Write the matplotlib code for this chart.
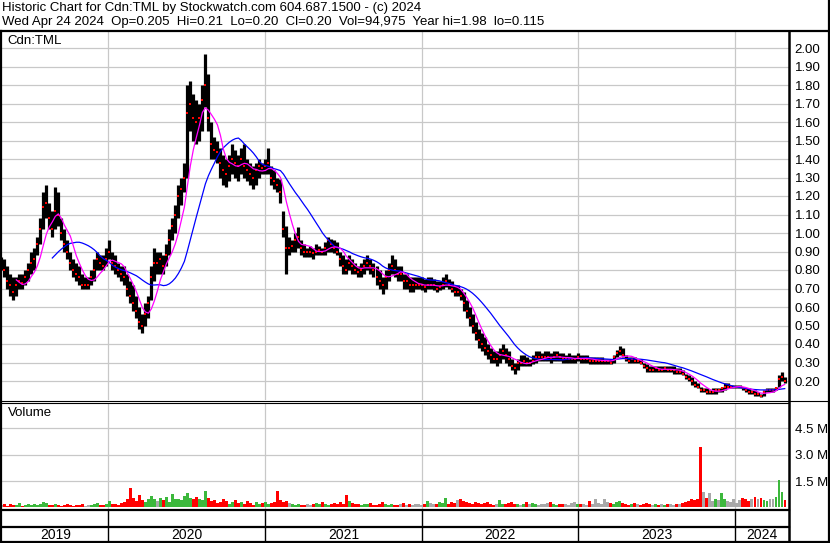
import matplotlib
matplotlib.use("Agg")
import matplotlib.pyplot as plt
import matplotlib.dates as mdates
from matplotlib.lines import Line2D
import numpy as np
import pandas as pd

plt.rcParams['font.family'] = ['Liberation Sans', 'DejaVu Sans']

# ---------------- data (weekly) ----------------
first_week = "2019-04-26"

high = [
    0.87, 0.86, 0.82, 0.78, 0.76, 0.76, 0.78, 0.78, 0.80, 0.84,
    0.90, 0.92, 0.98, 1.08, 1.22, 1.26, 1.16, 1.12, 1.25, 1.22,
    1.08, 1.02, 0.96, 0.90, 0.86, 0.84, 0.82, 0.78, 0.76, 0.76,
    0.80, 0.86, 0.90, 0.88, 0.88, 0.92, 0.96, 0.90, 0.88, 0.84,
    0.82, 0.82, 0.78, 0.74, 0.72, 0.66, 0.60, 0.56, 0.62, 0.66,
    0.82, 0.92, 0.90, 0.90, 0.88, 0.94, 1.02, 1.08, 1.15, 1.26,
    1.30, 1.38, 1.80, 1.82, 1.75, 1.72, 1.70, 1.80, 1.97, 1.86,
    1.60, 1.52, 1.50, 1.46, 1.42, 1.40, 1.42, 1.48, 1.45, 1.42,
    1.46, 1.48, 1.40, 1.38, 1.36, 1.38, 1.40, 1.38, 1.40, 1.46,
    1.36, 1.34, 1.30, 1.29, 1.12, 1.04, 0.98, 0.96, 1.00, 1.03,
    0.96, 0.94, 0.92, 0.93, 0.92, 0.94, 0.93, 0.92, 0.95, 0.98,
    0.97, 0.96, 0.95, 0.90, 0.88, 0.86, 0.88, 0.86, 0.84, 0.82,
    0.84, 0.86, 0.88, 0.86, 0.84, 0.82, 0.80, 0.76, 0.80, 0.84,
    0.88, 0.86, 0.82, 0.82, 0.78, 0.78, 0.76, 0.76, 0.76, 0.76,
    0.76, 0.75, 0.76, 0.76, 0.75, 0.74, 0.74, 0.76, 0.78, 0.75,
    0.74, 0.72, 0.72, 0.70, 0.68, 0.64, 0.60, 0.56, 0.52, 0.48,
    0.46, 0.44, 0.40, 0.38, 0.36, 0.36, 0.38, 0.40, 0.38, 0.36,
    0.32, 0.30, 0.32, 0.34, 0.34, 0.33, 0.32, 0.34, 0.36, 0.36,
    0.35, 0.36, 0.36, 0.35, 0.36, 0.36, 0.35, 0.35, 0.34, 0.35,
    0.34, 0.34, 0.35, 0.34, 0.34, 0.34, 0.33, 0.33, 0.33, 0.33,
    0.33, 0.32, 0.32, 0.32, 0.34, 0.37, 0.39, 0.38, 0.34, 0.33,
    0.33, 0.33, 0.32, 0.32, 0.30, 0.29, 0.28, 0.28, 0.28, 0.28,
    0.28, 0.28, 0.28, 0.28, 0.28, 0.27, 0.27, 0.26, 0.24, 0.23,
    0.22, 0.20, 0.19, 0.17, 0.16, 0.16, 0.15, 0.16, 0.16, 0.16,
    0.17, 0.19, 0.19, 0.18, 0.18, 0.18, 0.18, 0.17, 0.16, 0.16,
    0.15, 0.15, 0.14, 0.13, 0.15, 0.16, 0.16, 0.16, 0.17, 0.23,
    0.25, 0.22,
]
low = [
    0.80, 0.76, 0.70, 0.66, 0.64, 0.66, 0.70, 0.70, 0.72, 0.74,
    0.78, 0.80, 0.88, 0.94, 1.02, 1.08, 1.02, 0.98, 1.02, 1.04,
    0.96, 0.90, 0.86, 0.80, 0.76, 0.74, 0.72, 0.70, 0.70, 0.70,
    0.72, 0.74, 0.80, 0.80, 0.80, 0.82, 0.86, 0.80, 0.78, 0.76,
    0.74, 0.72, 0.66, 0.62, 0.58, 0.54, 0.48, 0.46, 0.50, 0.54,
    0.64, 0.74, 0.78, 0.78, 0.78, 0.82, 0.88, 0.96, 1.00, 1.08,
    1.15, 1.22, 1.30, 1.55, 1.50, 1.48, 1.50, 1.55, 1.68, 1.55,
    1.40, 1.40, 1.38, 1.30, 1.26, 1.25, 1.28, 1.32, 1.30, 1.28,
    1.32, 1.30, 1.28, 1.26, 1.24, 1.26, 1.30, 1.32, 1.32, 1.32,
    1.26, 1.24, 1.22, 1.16, 0.98, 0.78, 0.88, 0.90, 0.90, 0.92,
    0.88, 0.87, 0.87, 0.87, 0.86, 0.88, 0.88, 0.88, 0.88, 0.90,
    0.90, 0.89, 0.88, 0.82, 0.78, 0.78, 0.80, 0.78, 0.78, 0.76,
    0.76, 0.78, 0.80, 0.78, 0.76, 0.72, 0.70, 0.67, 0.70, 0.74,
    0.78, 0.76, 0.74, 0.74, 0.70, 0.70, 0.68, 0.68, 0.70, 0.70,
    0.69, 0.68, 0.70, 0.70, 0.69, 0.68, 0.69, 0.70, 0.71, 0.70,
    0.68, 0.66, 0.66, 0.64, 0.58, 0.54, 0.50, 0.46, 0.42, 0.38,
    0.36, 0.34, 0.32, 0.30, 0.30, 0.28, 0.30, 0.32, 0.30, 0.28,
    0.26, 0.24, 0.26, 0.28, 0.28, 0.28, 0.28, 0.29, 0.30, 0.31,
    0.31, 0.31, 0.31, 0.30, 0.31, 0.31, 0.31, 0.30, 0.30, 0.30,
    0.30, 0.30, 0.31, 0.30, 0.30, 0.30, 0.29, 0.29, 0.29, 0.29,
    0.29, 0.29, 0.29, 0.29, 0.30, 0.33, 0.34, 0.33, 0.31, 0.30,
    0.30, 0.30, 0.30, 0.29, 0.27, 0.25, 0.25, 0.25, 0.25, 0.25,
    0.25, 0.25, 0.25, 0.25, 0.24, 0.24, 0.24, 0.23, 0.21, 0.20,
    0.18, 0.17, 0.16, 0.14, 0.14, 0.13, 0.13, 0.13, 0.13, 0.14,
    0.14, 0.15, 0.16, 0.16, 0.16, 0.16, 0.16, 0.15, 0.14, 0.13,
    0.13, 0.12, 0.12, 0.115, 0.12, 0.14, 0.14, 0.14, 0.15, 0.17,
    0.20, 0.19,
]
close = [
    0.82, 0.80, 0.74, 0.72, 0.68, 0.72, 0.74, 0.73, 0.76, 0.80,
    0.84, 0.86, 0.94, 1.02, 1.14, 1.16, 1.08, 1.02, 1.12, 1.10,
    1.00, 0.94, 0.90, 0.84, 0.80, 0.78, 0.76, 0.72, 0.72, 0.72,
    0.76, 0.80, 0.86, 0.84, 0.82, 0.86, 0.90, 0.84, 0.82, 0.80,
    0.78, 0.76, 0.70, 0.66, 0.62, 0.58, 0.52, 0.50, 0.56, 0.62,
    0.76, 0.84, 0.84, 0.86, 0.82, 0.88, 0.96, 1.04, 1.10, 1.20,
    1.24, 1.30, 1.65, 1.70, 1.62, 1.60, 1.62, 1.72, 1.80, 1.62,
    1.48, 1.45, 1.44, 1.38, 1.34, 1.32, 1.36, 1.40, 1.38, 1.36,
    1.40, 1.36, 1.34, 1.32, 1.30, 1.34, 1.36, 1.35, 1.36, 1.38,
    1.30, 1.28, 1.26, 1.22, 1.02, 0.92, 0.92, 0.93, 0.96, 0.98,
    0.92, 0.90, 0.90, 0.90, 0.89, 0.90, 0.91, 0.90, 0.92, 0.96,
    0.94, 0.92, 0.90, 0.86, 0.82, 0.80, 0.84, 0.82, 0.80, 0.79,
    0.80, 0.82, 0.84, 0.82, 0.80, 0.76, 0.74, 0.72, 0.76, 0.80,
    0.82, 0.80, 0.78, 0.78, 0.74, 0.74, 0.72, 0.72, 0.72, 0.72,
    0.72, 0.71, 0.72, 0.72, 0.72, 0.70, 0.71, 0.72, 0.74, 0.72,
    0.70, 0.68, 0.68, 0.66, 0.62, 0.58, 0.54, 0.50, 0.46, 0.42,
    0.40, 0.38, 0.36, 0.34, 0.32, 0.32, 0.34, 0.36, 0.34, 0.32,
    0.28, 0.27, 0.30, 0.30, 0.31, 0.30, 0.30, 0.31, 0.33, 0.33,
    0.33, 0.33, 0.33, 0.32, 0.33, 0.34, 0.33, 0.32, 0.32, 0.32,
    0.32, 0.32, 0.33, 0.32, 0.32, 0.32, 0.31, 0.31, 0.31, 0.31,
    0.31, 0.31, 0.31, 0.30, 0.33, 0.35, 0.36, 0.34, 0.32, 0.31,
    0.32, 0.31, 0.31, 0.30, 0.28, 0.27, 0.26, 0.26, 0.27, 0.26,
    0.26, 0.27, 0.26, 0.26, 0.26, 0.25, 0.25, 0.24, 0.22, 0.21,
    0.20, 0.18, 0.17, 0.15, 0.15, 0.14, 0.14, 0.14, 0.15, 0.15,
    0.16, 0.17, 0.17, 0.17, 0.17, 0.17, 0.17, 0.16, 0.15, 0.14,
    0.14, 0.13, 0.13, 0.12, 0.14, 0.15, 0.15, 0.15, 0.16, 0.21,
    0.22, 0.20,
]
volume_m = [
    0.12, 0.18, 0.10, 0.22, 0.15, 0.12, 0.25, 0.10, 0.14, 0.18,
    0.12, 0.20, 0.15, 0.18, 0.30, 0.25, 0.16, 0.12, 0.22, 0.14,
    0.10, 0.12, 0.18, 0.15, 0.10, 0.12, 0.16, 0.20, 0.10, 0.14,
    0.12, 0.18, 0.25, 0.15, 0.12, 0.20, 0.35, 0.18, 0.22, 0.15,
    0.25, 0.30, 0.45, 1.10, 0.55, 0.35, 0.70, 0.40, 0.30, 0.50,
    0.65, 0.45, 0.35, 0.55, 0.40, 0.60, 0.30, 0.75, 0.45, 0.50,
    0.40, 0.65, 0.80, 0.55, 0.45, 0.60, 0.50, 0.40, 0.95, 0.55,
    0.35, 0.40, 0.25, 0.30, 0.45, 0.35, 0.20, 0.30, 0.40, 0.25,
    0.30, 0.20, 0.35, 0.25, 0.15, 0.30, 0.20, 0.25, 0.30, 0.20,
    0.25, 0.30, 0.95, 0.40, 0.30, 0.35, 0.25, 0.20, 0.15, 0.20,
    0.15, 0.12, 0.18, 0.15, 0.20, 0.25, 0.18, 0.30, 0.20, 0.15,
    0.20, 0.25, 0.18, 0.30, 0.22, 0.70, 0.35, 0.25, 0.20, 0.18,
    0.15, 0.20, 0.18, 0.25, 0.15, 0.12, 0.20, 0.30, 0.18, 0.15,
    0.20, 0.12, 0.15, 0.18, 0.25, 0.12, 0.20, 0.15, 0.22, 0.18,
    0.15, 0.20, 0.35, 0.25, 0.18, 0.22, 0.30, 0.25, 0.55, 0.20,
    0.30, 0.25, 0.40, 0.45, 0.35, 0.30, 0.25, 0.20, 0.30, 0.25,
    0.20, 0.25, 0.30, 0.20, 0.15, 0.18, 0.40, 0.22, 0.20, 0.25,
    0.30, 0.20, 0.18, 0.15, 0.22, 0.30, 0.20, 0.25, 0.18, 0.15,
    0.20, 0.18, 0.25, 0.30, 0.20, 0.15, 0.18, 0.22, 0.20, 0.15,
    0.25, 0.30, 0.20, 0.18, 0.22, 0.15, 0.35, 0.20, 0.45, 0.25,
    0.20, 0.50, 0.30, 0.25, 0.20, 0.30, 0.35, 0.25, 0.20, 0.15,
    0.20, 0.25, 0.18, 0.15, 0.20, 0.25, 0.18, 0.15, 0.20, 0.15,
    0.18, 0.15, 0.20, 0.22, 0.15, 0.18, 0.20, 0.25, 0.30, 0.35,
    0.45, 0.40, 0.50, 3.45, 0.90, 0.55, 0.80, 0.35, 0.50, 0.40,
    0.80, 0.45, 0.35, 0.30, 0.50, 0.25, 0.40, 0.55, 0.45, 0.35,
    0.50, 0.60, 0.45, 0.55, 0.40, 0.35, 0.45, 0.50, 0.60, 1.55,
    0.85, 0.40,
]
years = ["2019", "2020", "2021", "2022", "2023", "2024"]
price_ticks = [0.20, 0.30, 0.40, 0.50, 0.60, 0.70, 0.80, 0.90, 1.00, 1.10,
               1.20, 1.30, 1.40, 1.50, 1.60, 1.70, 1.80, 1.90, 2.00]
volume_ticks = [1.5, 3.0, 4.5]
header1 = "Historic Chart for Cdn:TML by Stockwatch.com 604.687.1500 - (c) 2024"
header2 = ("Wed Apr 24 2024  Op=0.205  Hi=0.21  Lo=0.20  Cl=0.20  "
           "Vol=94,975  Year hi=1.98  lo=0.115")
symbol = "Cdn:TML"

# ---------------- derived ----------------
dates = pd.date_range(first_week, periods=len(close), freq="7D")
x = mdates.date2num(dates)
cs = pd.Series(close)
ma_short = cs.rolling(6).mean()
ma_long = cs.rolling(18).mean()
diff = cs.diff().fillna(0).values
vol_colors = ["#ff0000" if d < 0 else ("#3cb83c" if d > 0 else "#a8a8a8") for d in diff]

# ---------------- layout (pixel helpers) ----------------
W, H = 830, 543
fig = plt.figure(figsize=(W / 100, H / 100), dpi=100)
fig.patch.set_facecolor("white")

def fx(px):
    return px / W

def fy(py):
    return 1 - py / H

PX_PER_DAY = 0.4288
X2020 = 108.5
d2020 = mdates.date2num(pd.Timestamp("2020-01-01"))

def px2date(px):
    return d2020 + (px - X2020) / PX_PER_DAY

L, R = 2, 789
xlim = (px2date(L), px2date(R))
grid_c = "#c8c8c8"
year_bounds = [mdates.date2num(pd.Timestamp(f"{y}-01-01")) for y in range(2020, 2025)]
FS = 9.5

# price panel
ax = fig.add_axes([fx(L), fy(400), fx(R) - fx(L), fy(31) - fy(400)])
p_lo = 0.20 - (400 - 381) / 185.0
p_hi = 2.00 + (48 - 31) / 185.0
ax.set_xlim(*xlim)
ax.set_ylim(p_lo, p_hi)
for t in price_ticks:
    ax.axhline(t, color=grid_c, lw=0.9, zorder=0)
for b in year_bounds:
    ax.axvline(b, color=grid_c, lw=0.9, zorder=0)
ax.vlines(x, low, high, color="black", lw=2.3, zorder=2)
ax.plot(x, close, linestyle="none", marker="s", ms=1.6, color="#ff0000",
        markeredgewidth=0, zorder=3)
ax.plot(x, ma_long, color="#0000ff", lw=0.9, zorder=4)
ax.plot(x, ma_short, color="#ff00ff", lw=0.9, zorder=5)
ax.yaxis.tick_right()
ax.set_yticks(price_ticks)
ax.set_yticklabels([f"{t:.2f}" for t in price_ticks])
ax.tick_params(axis="y", length=0, pad=4, labelsize=FS)
ax.set_xticks([])
for s in ax.spines.values():
    s.set_visible(False)
fig.text(fx(7), fy(41), symbol, fontsize=FS, va="center", ha="left")

# volume panel
axv = fig.add_axes([fx(L), fy(509.5), fx(R) - fx(L), fy(403) - fy(509.5)])
axv.set_xlim(*xlim)
axv.set_ylim(-0.12, 5.95)
for t in volume_ticks:
    axv.axhline(t, color=grid_c, lw=0.9, zorder=0)
for b in year_bounds:
    axv.axvline(b, color=grid_c, lw=0.9, zorder=0)
axv.bar(x, volume_m, width=5.6, color=vol_colors, bottom=0, zorder=2, linewidth=0)
axv.yaxis.tick_right()
axv.set_yticks(volume_ticks)
axv.set_yticklabels([f"{t:.1f} M" for t in volume_ticks])
axv.tick_params(axis="y", length=0, pad=4, labelsize=FS)
axv.set_xticks([])
for s in axv.spines.values():
    s.set_visible(False)
fig.text(fx(8), fy(413), "Volume", fontsize=FS, va="center", ha="left")

# date band
axd = fig.add_axes([fx(L), fy(542), fx(R) - fx(L), fy(509.5) - fy(542)])
axd.set_xlim(*xlim)
axd.set_ylim(0, 1)
axd.axis("off")
edges = [xlim[0]] + year_bounds + [xlim[1]]
for b in year_bounds:
    axd.axvline(b, color="black", lw=1.0)
for i, yl in enumerate(years):
    axd.text((edges[i] + edges[i + 1]) / 2, 0.22, yl, ha="center", va="center",
             fontsize=FS + 0.5)

# header
fig.text(fx(2), fy(8), header1, fontsize=FS, va="center", ha="left")
fig.text(fx(2), fy(22), header2, fontsize=FS, va="center", ha="left")

# frame lines (figure pixel coordinates)
def hline(py, x0, x1, lw=1.5):
    fig.add_artist(Line2D([fx(x0), fx(x1)], [fy(py), fy(py)], color="black",
                          lw=lw, transform=fig.transFigure))

def vline(px, y0, y1, lw=1.5):
    fig.add_artist(Line2D([fx(px), fx(px)], [fy(y0), fy(y1)], color="black",
                          lw=lw, transform=fig.transFigure))

hline(31, 0, W, 1.6)
hline(400.5, 0, W, 0.8)
hline(402.7, 0, R, 0.8)
hline(509.5, 0, R, 1.6)
hline(527, 0, R, 1.6)
hline(542, 0, W, 1.6)
vline(R, 31, 543, 1.8)
vline(0.8, 31, 543, 1.6)
vline(829, 0, 543, 1.6)

fig.savefig("out.png", dpi=100)
